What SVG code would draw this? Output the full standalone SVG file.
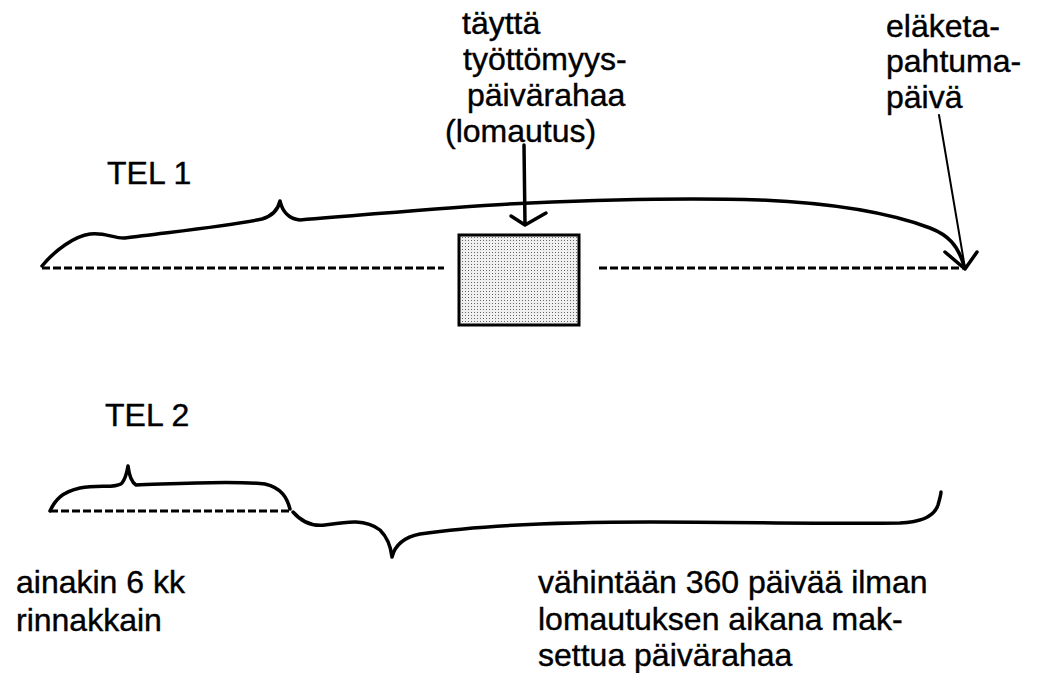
<svg xmlns="http://www.w3.org/2000/svg" width="1039" height="673" viewBox="0 0 1039 673">
<style>
text{font-family:"Liberation Sans",Arial,sans-serif;font-size:32px;fill:#000;stroke:#000;stroke-width:0.4}
.dash{fill:none;stroke:#000;stroke-width:3;stroke-dasharray:8 3}
.brace{fill:none;stroke:#000;stroke-width:3.5;stroke-linecap:round;stroke-linejoin:round}
.thin{fill:none;stroke:#000;stroke-width:2;stroke-linecap:round}
</style>
<defs>
<pattern id="dots" width="3" height="3" patternUnits="userSpaceOnUse">
<rect width="3" height="3" fill="#f0f0f0"/>
<rect width="1" height="1" fill="#666"/>
</pattern>
</defs>
<rect width="1039" height="673" fill="#fff"/>
<g id="labels">
<text x="462" y="34">täyttä</text>
<text x="463" y="70">työttömyys-</text>
<text x="467" y="106">päivärahaa</text>
<text x="445" y="142">(lomautus)</text>
<text x="886" y="37">eläketa-</text>
<text x="886" y="72">pahtuma-</text>
<text x="886" y="108">päivä</text>
<text x="107" y="184">TEL 1</text>
<text x="105" y="426">TEL 2</text>
<text x="16" y="593">ainakin 6 kk</text>
<text x="16" y="631">rinnakkain</text>
<text x="538" y="593">vähintään 360 päivää ilman</text>
<text x="538" y="630">lomautuksen aikana mak-</text>
<text x="538" y="666">settua päivärahaa</text>
</g>
<g id="lomautus-box">
<rect x="459" y="235" width="120" height="90" fill="url(#dots)" stroke="#000" stroke-width="3"/>
</g>
<g id="connectors">
<path class="dash" d="M42,268 H444"/>
<path class="dash" d="M599,268 H965"/>
<path class="dash" d="M50,511 H290"/>
<path class="brace" d="M42,266 C55,250 75,236 90,234 C105,232 115,239 125,238 C170,232 230,226 262,219 C272,216 278,210 280,201 C282,210 288,219 300,220 C400,212 470,205 530,203 C620,199 700,198 760,200 C830,203 890,213 930,228 C948,235 958,245 964,266"/>
<path class="brace" d="M524,145 L525,225 M511,216 L525,225 L546,213"/>
<path class="thin" d="M939,115 L965,268"/>
<path class="brace" d="M945,252 L965,269 L977,252"/>
<path class="brace" d="M50,511 C55,500 62,492 80,488 C100,485 118,488 122,483 C126,478 127,472 128,466 C129,474 131,482 136,485 C170,484 230,480 265,484 C282,488 287,498 290,509"/>
<path class="brace" d="M293,512 C300,520 310,527 325,525 C345,522 365,518 380,530 C388,538 391,548 392,557 C395,545 405,537 420,534 C480,525 560,522 650,522 C740,522 830,524 900,523 C925,522 935,514 938,505 C940,498 941,494 941,492"/>
</g>
</svg>
